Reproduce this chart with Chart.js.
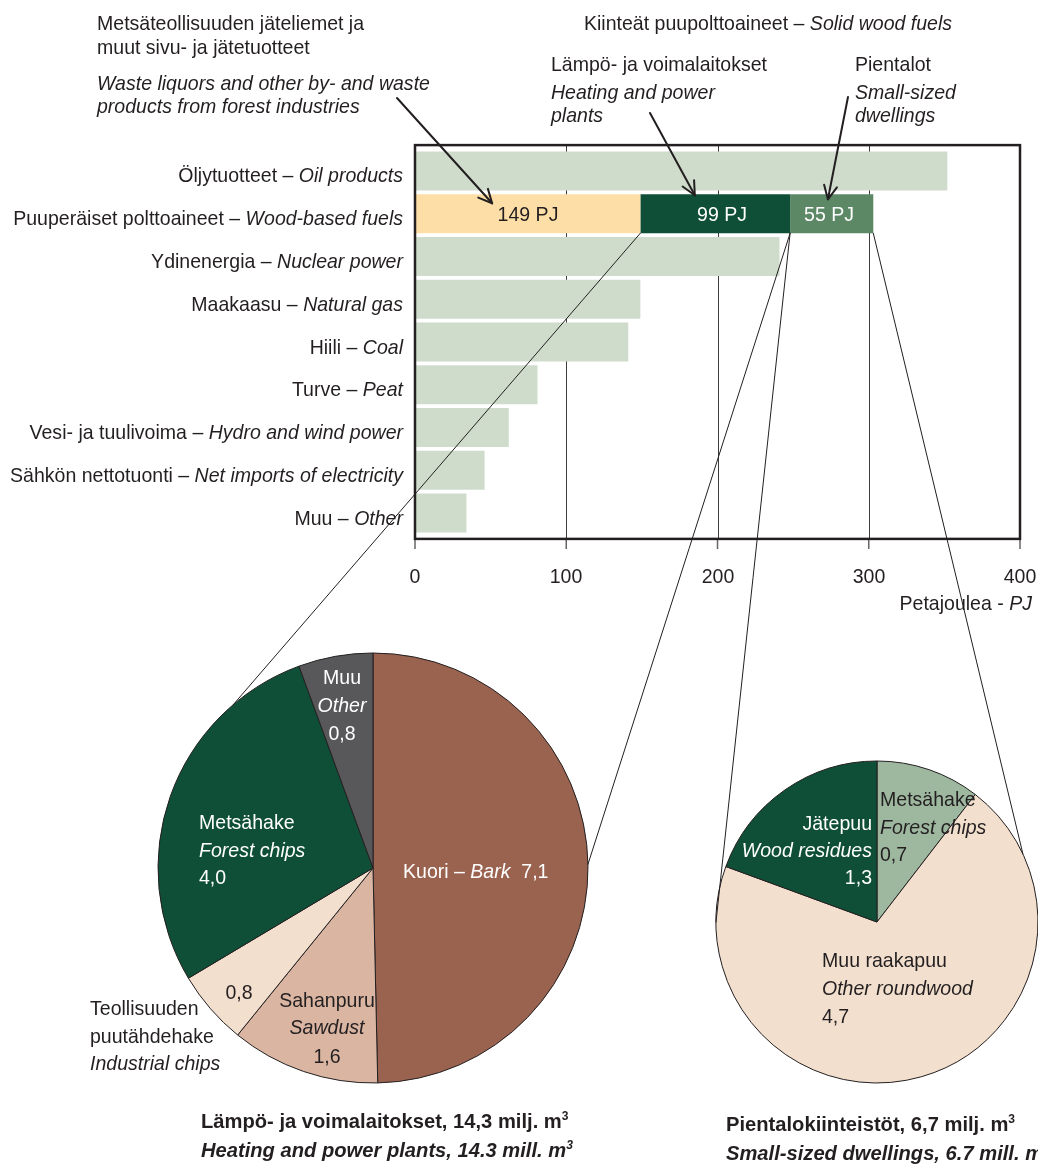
<!DOCTYPE html>
<html lang="fi">
<head>
<meta charset="utf-8">
<title>Puupolttoaineet</title>
<script src="https://cdn.jsdelivr.net/npm/chart.js@4.4.1/dist/chart.umd.min.js"></script>
<style>
  html, body { margin: 0; padding: 0; background: #fff; overflow: hidden; }
  #page { position: relative; width: 1038px; height: 1166px; overflow: hidden;
          font-family: "Liberation Sans", Arial, Helvetica, sans-serif; color: #231f20; }
  #page canvas { position: absolute; }
  .t { position: absolute; white-space: nowrap; font-size: 21px; line-height: 24px; transform-origin: 0 0; }
  .w { color: #fff; }
  .b { font-weight: bold; }
  sup { font-size: 60%; line-height: 0; vertical-align: baseline; position: relative; top: -0.6em; }
</style>
</head>
<body>
<div id="page">
  <canvas id="bars" width="1038" height="620" style="left:0;top:0"></canvas>
  <canvas id="piePlants" width="440" height="440" style="left:153px;top:648px"></canvas>
  <canvas id="pieDwellings" width="340" height="340" style="left:707px;top:752px"></canvas>
  <canvas id="overlay" width="1038" height="1166" style="left:0;top:0"></canvas>
</div>
<script>
// energy sources, PJ
const categoriesFi = ['Öljytuotteet', 'Puuperäiset polttoaineet', 'Ydinenergia', 'Maakaasu', 'Hiili',
  'Turve', 'Vesi- ja tuulivoima', 'Sähkön nettotuonti', 'Muu'];
const categoriesEn = ['Oil products', 'Wood-based fuels', 'Nuclear power', 'Natural gas', 'Coal',
  'Peat', 'Hydro and wind power', 'Net imports of electricity', 'Other'];
const sourcesPJ = [352, null, 241, 149, 141, 81, 62, 46, 34];
const woodParts = ['Jäteliemet ja sivutuotteet', 'Lämpö- ja voimalaitokset', 'Pientalot'];
const woodPJ = [149, 99, 55];
const xTicks = [0, 100, 200, 300, 400];

// solid wood fuels, mill. m3
const plantsFi = ['Kuori', 'Sahanpuru', 'Teollisuuden puutähdehake', 'Metsähake', 'Muu'];
const plantsEn = ['Bark', 'Sawdust', 'Industrial chips', 'Forest chips', 'Other'];
const plantsMm3 = [7.1, 1.6, 0.8, 4.0, 0.8];
const dwellingsFi = ['Metsähake', 'Muu raakapuu', 'Jätepuu'];
const dwellingsEn = ['Forest chips', 'Other roundwood', 'Wood residues'];
const dwellingsMm3 = [0.7, 4.7, 1.3];

const TEXT = '#231f20';
const woodColors = ['#fddea6', '#0f4f38', '#5c8866'];
const framePad = 4.5;

const gridFrame = {
  id: 'gridFrame',
  beforeDatasetsDraw(chart) {
    const { ctx, chartArea: a, scales: { x } } = chart;
    ctx.save();
    ctx.strokeStyle = '#3c3c3c';
    ctx.lineWidth = 1;
    ctx.beginPath();
    xTicks.slice(1, -1).forEach(v => {
      const px = Math.round(x.getPixelForValue(v)) + 0.5;
      ctx.moveTo(px, a.top - framePad);
      ctx.lineTo(px, a.bottom + framePad);
    });
    ctx.stroke();
    ctx.restore();
  },
  afterDatasetsDraw(chart) {
    const { ctx, chartArea: a, scales: { x } } = chart;
    ctx.save();
    ctx.strokeStyle = '#666';
    ctx.lineWidth = 1.5;
    ctx.beginPath();
    xTicks.forEach(v => {
      const px = x.getPixelForValue(v);
      ctx.moveTo(px, a.bottom + framePad);
      ctx.lineTo(px, a.bottom + framePad + 10);
    });
    ctx.stroke();
    ctx.strokeStyle = TEXT;
    ctx.lineWidth = 2.5;
    ctx.strokeRect(a.left, a.top - framePad, a.right - a.left, a.bottom - a.top + 2 * framePad);
    ctx.restore();
  }
};

const barChart = new Chart(document.getElementById('bars'), {
  type: 'bar',
  data: {
    labels: categoriesFi,
    datasets: [
      { label: 'Muut', data: sourcesPJ, backgroundColor: '#cfdccc' },
      ...woodPJ.map((v, k) => ({
        label: woodParts[k],
        data: categoriesFi.map((c, i) => i === 1 ? v : null),
        backgroundColor: woodColors[k]
      }))
    ]
  },
  options: {
    indexAxis: 'y',
    responsive: false,
    animation: false,
    layout: { padding: { left: 415, top: 149.6, right: 18, bottom: 25.6 } },
    datasets: { bar: { barPercentage: 0.91, categoryPercentage: 1, borderWidth: 0 } },
    scales: {
      x: {
        stacked: true, min: 0, max: 400,
        afterBuildTicks: s => { s.ticks = xTicks.map(v => ({ value: v })); },
        grid: { display: false, drawTicks: false },
        border: { display: false },
        ticks: { display: false },
        afterFit: s => { s.height = 60; }
      },
      y: {
        stacked: true,
        grid: { display: false, drawTicks: false },
        border: { display: false },
        ticks: { display: false },
        afterFit: s => { s.width = 0; }
      }
    },
    plugins: { legend: { display: false }, tooltip: { enabled: false } }
  },
  plugins: [gridFrame]
});

function makePie(id, labels, values, colors, radius) {
  return new Chart(document.getElementById(id), {
    type: 'pie',
    data: {
      labels: labels,
      datasets: [{ data: values, backgroundColor: colors, borderColor: TEXT, borderWidth: 1, radius: radius }]
    },
    options: {
      responsive: false,
      animation: false,
      plugins: { legend: { display: false }, tooltip: { enabled: false } }
    }
  });
}
const plantsChart = makePie('piePlants', plantsFi, plantsMm3,
  ['#9a6350', '#d9b5a2', '#f2dfce', '#0f4f38', '#58585a'], 215);
const dwellingsChart = makePie('pieDwellings', dwellingsFi, dwellingsMm3,
  ['#9eb8a0', '#f2dfce', '#0f4f38'], 161);

// ---------- connector lines and arrows ----------
const ov = document.getElementById('overlay').getContext('2d');
ov.strokeStyle = TEXT;
ov.lineCap = 'round';
function seg(x1, y1, x2, y2) {
  ov.beginPath(); ov.moveTo(x1, y1); ov.lineTo(x2, y2); ov.stroke();
}
function arrow(x1, y1, x2, y2) {
  ov.lineWidth = 2;
  seg(x1, y1, x2, y2);
  const a = Math.atan2(y2 - y1, x2 - x1);
  [-1, 1].forEach(s => {
    const b = a + Math.PI + s * 0.45;
    seg(x2, y2, x2 + 15 * Math.cos(b), y2 + 15 * Math.sin(b));
  });
}
function rim(chart, deg) {
  const el = chart.getDatasetMeta(0).data[0];
  const c = chart.canvas, r = el.outerRadius, t = deg * Math.PI / 180;
  return [c.offsetLeft + el.x + r * Math.cos(t), c.offsetTop + el.y + r * Math.sin(t)];
}
const xs = barChart.scales.x, ys = barChart.scales.y;
const woodBars = [1, 2, 3].map(k => barChart.getDatasetMeta(k).data[1]);
const barTop = woodBars[0].y - woodBars[0].height / 2;
const barBottom = woodBars[0].y + woodBars[0].height / 2;

ov.lineWidth = 1;
seg(woodBars[0].x, barBottom, ...rim(plantsChart, -130.5));
seg(woodBars[1].x, barBottom, ...rim(plantsChart, -1));
seg(woodBars[1].x, barBottom, ...rim(dwellingsChart, 180));
seg(woodBars[2].x, barBottom, ...rim(dwellingsChart, -25));

arrow(397, 98, xs.getPixelForValue(51), barTop + 9);
arrow(650, 113, xs.getPixelForValue(185), barTop + 1);
arrow(848, 97, xs.getPixelForValue(273), barTop + 5);

// ---------- texts ----------
const page = document.getElementById('page');
function put(html, x, y, align, cls) {
  const d = document.createElement('div');
  d.className = 't' + (cls ? ' ' + cls : '');
  d.innerHTML = html;
  d.style.left = x + 'px';
  d.style.top = y + 'px';
  const tx = align === 'right' ? '-100%' : align === 'center' ? '-50%' : '0';
  const k = cls && cls.indexOf('b') >= 0 ? 0.96 : 0.93;
  d.style.transform = 'scaleX(' + k + ') translate(' + tx + ', -50%)';
  page.appendChild(d);
}
const fmt = v => v.toFixed(1).replace('.', ',');
const sum = a => a.reduce((s, v) => s + v, 0);

put('Metsäteollisuuden jäteliemet ja', 97, 22.7);
put('muut sivu- ja jätetuotteet', 97, 47);
put('<i>Waste liquors and other by- and waste</i>', 97, 82.5);
put('<i>products from forest industries</i>', 97, 106);
put('Kiinteät puupolttoaineet – <i>Solid wood fuels</i>', 584, 22.8);
put(woodParts[1], 551, 64);
put('<i>Heating and power</i>', 551, 91.5);
put('<i>plants</i>', 551, 115);
put(woodParts[2], 855, 64);
put('<i>Small-sized</i>', 855, 91.5);
put('<i>dwellings</i>', 855, 115);

categoriesFi.forEach((fi, i) => {
  put(fi + ' – <i>' + categoriesEn[i] + '</i>', 402.5, ys.getPixelForValue(i) + 4.5, 'right');
});
const labelShift = [0, 7, -3];
woodBars.forEach((el, k) => {
  put(woodPJ[k] + ' PJ', (el.x + el.base) / 2 + labelShift[k], el.y + 0.5, 'center', k ? 'w' : '');
});
xTicks.forEach(v => put(String(v), xs.getPixelForValue(v), 576, 'center'));
put('Petajoulea - <i>PJ</i>', 1032, 603, 'right');

// pie labels, offsets from each pie centre
const pc = plantsChart.getDatasetMeta(0).data[0];
const px0 = plantsChart.canvas.offsetLeft + pc.x, py0 = plantsChart.canvas.offsetTop + pc.y;
put(plantsFi[4], px0 - 31, py0 - 191, 'center', 'w');
put('<i>' + plantsEn[4] + '</i>', px0 - 31, py0 - 163, 'center', 'w');
put(fmt(plantsMm3[4]), px0 - 31, py0 - 135, 'center', 'w');
put(plantsFi[3], px0 - 174, py0 - 46, 'left', 'w');
put('<i>' + plantsEn[3] + '</i>', px0 - 174, py0 - 18, 'left', 'w');
put(fmt(plantsMm3[3]), px0 - 174, py0 + 9, 'left', 'w');
put(plantsFi[0] + ' – <i>' + plantsEn[0] + '</i>&nbsp; ' + fmt(plantsMm3[0]), px0 + 30, py0 + 2.5, 'left', 'w');
put(fmt(plantsMm3[2]), px0 - 134.5, py0 + 123.5, 'center');
put(plantsFi[1], px0 - 46, py0 + 131.5, 'center');
put('<i>' + plantsEn[1] + '</i>', px0 - 46, py0 + 159, 'center');
put(fmt(plantsMm3[1]), px0 - 46, py0 + 188, 'center');
put('Teollisuuden', px0 - 283, py0 + 139.5);
put('puutähdehake', px0 - 283, py0 + 167.5);
put('<i>' + plantsEn[2] + '</i>', px0 - 283, py0 + 194.7);

const dc = dwellingsChart.getDatasetMeta(0).data[0];
const dx0 = dwellingsChart.canvas.offsetLeft + dc.x, dy0 = dwellingsChart.canvas.offsetTop + dc.y;
put(dwellingsFi[0], dx0 + 3, dy0 - 123);
put('<i>' + dwellingsEn[0] + '</i>', dx0 + 3, dy0 - 95);
put(fmt(dwellingsMm3[0]), dx0 + 3, dy0 - 68);
put(dwellingsFi[2], dx0 - 5, dy0 - 99, 'right', 'w');
put('<i>' + dwellingsEn[2] + '</i>', dx0 - 5, dy0 - 72.5, 'right', 'w');
put(fmt(dwellingsMm3[2]), dx0 - 5, dy0 - 45, 'right', 'w');
put(dwellingsFi[1], dx0 - 55, dy0 + 37.5);
put('<i>' + dwellingsEn[1] + '</i>', dx0 - 55, dy0 + 66);
put(fmt(dwellingsMm3[1]), dx0 - 55, dy0 + 94);

const plantsTotal = sum(plantsMm3), dwellingsTotal = sum(dwellingsMm3);
put('Lämpö- ja voimalaitokset, ' + fmt(plantsTotal) + ' milj. m<sup>3</sup>', 201, 1120.5, 'left', 'b');
put('<i>Heating and power plants, ' + plantsTotal.toFixed(1) + ' mill. m<sup>3</sup></i>', 201, 1149.5, 'left', 'b');
put('Pientalokiinteistöt, ' + fmt(dwellingsTotal) + ' milj. m<sup>3</sup>', 726, 1123.5, 'left', 'b');
put('<i>Small-sized dwellings, ' + dwellingsTotal.toFixed(1) + ' mill. m<sup>3</sup></i>', 726, 1153, 'left', 'b');
</script>
</body>
</html>
